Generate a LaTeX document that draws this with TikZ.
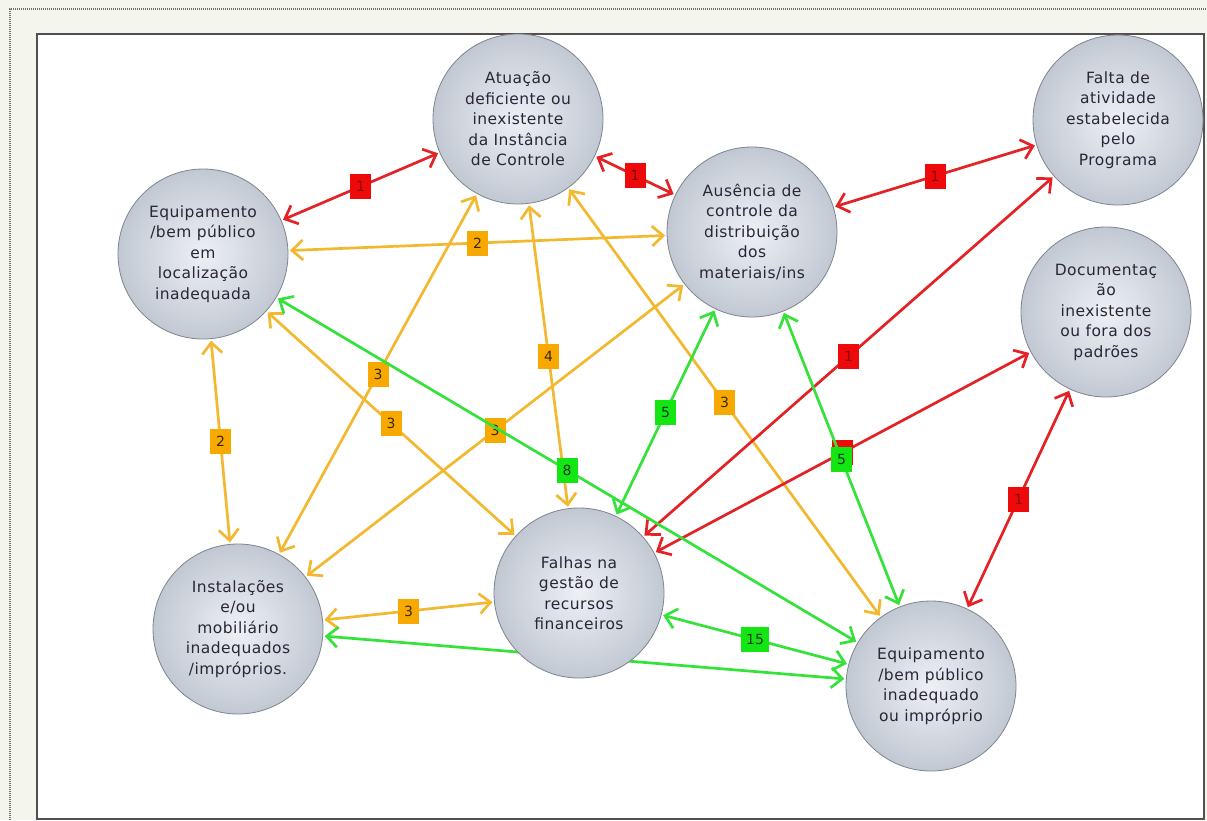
\documentclass[tikz,border=0pt]{standalone}
\usepackage{fontspec}
\usetikzlibrary{arrows.meta}
\newfontfamily\nodefont{DejaVu Sans}[LetterSpace=3]
\newfontfamily\labfont{DejaVu Sans}
\definecolor{bgout}{HTML}{F4F5EC}
\definecolor{dotcol}{HTML}{6E6E6E}
\definecolor{framecol}{HTML}{505050}
\definecolor{ballc}{HTML}{EDF0F5}
\definecolor{ballm}{HTML}{C4CAD4}
\definecolor{balle}{HTML}{8A92A0}
\definecolor{ballborder}{HTML}{7E8590}
\definecolor{nodetext}{HTML}{2A2638}
\definecolor{colO}{HTML}{F2B930}
\definecolor{labO}{HTML}{F7A900}
\definecolor{txtO}{HTML}{3A2A00}
\definecolor{colR}{HTML}{E42226}
\definecolor{labR}{HTML}{EE0A0A}
\definecolor{txtR}{HTML}{8A0000}
\definecolor{colG}{HTML}{35E23A}
\definecolor{labG}{HTML}{14E614}
\definecolor{txtG}{HTML}{0A3A0A}
\pgfdeclarelayer{bg}
\pgfdeclarelayer{edges}
\pgfsetlayers{bg,edges,main}
\pgfdeclareradialshading{ballshade}{\pgfpoint{0bp}{0bp}}{color(0bp)=(ballc); color(24bp)=(ballm); color(50bp)=(balle)}
\begin{document}
\begin{tikzpicture}[x=1pt,y=-1pt,
  >={Straight Barb[length=11pt,width=20pt]},
  ball/.style={circle, minimum size=170pt, inner sep=0pt, shading=ballshade,
    draw=ballborder, line width=0.8pt, align=center, text=nodetext,
    font=\nodefont\fontsize{15.5}{20.5}\selectfont, outer sep=2pt},
  conn/.style={<->, line width=2.7pt, line cap=round, line join=round},
  oedge/.style={conn, draw=colO},
  redge/.style={conn, draw=colR},
  gedge/.style={conn, draw=colG},
  lab/.style={rectangle, minimum width=21pt, minimum height=25pt, inner xsep=5pt,
    inner ysep=0pt, font=\labfont\fontsize{14}{16}\selectfont},
  olab/.style={lab, fill=labO, text=txtO},
  rlab/.style={lab, fill=labR, text=txtR},
  glab/.style={lab, fill=labG, text=txtG}]
\useasboundingbox (0,0) rectangle (1207,820);
\begin{pgfonlayer}{bg}
\fill[bgout] (0,0) rectangle (1207,820);
\draw[dotcol, line width=2pt, dash pattern=on 1pt off 1pt] (10,820) -- (10,9) -- (1207,9);
\draw[framecol, fill=white, line width=2.6pt] (37,34) rectangle (1204,819);
\end{pgfonlayer}

\node[ball] (n1) at (203,254) {Equipamento\\/bem público\\em\\localização\\inadequada};
\node[ball] (n2) at (518,119) {Atuação\\deficiente ou\\inexistente\\da Instância\\de Controle};
\node[ball] (n3) at (752,232) {Ausência de\\controle da\\distribuição\\dos\\materiais/ins};
\node[ball] (n4) at (1118,120) {Falta de\\atividade\\estabelecida\\pelo\\Programa};
\node[ball] (n5) at (1106,312) {Documentaç\\ão\\inexistente\\ou fora dos\\padrões};
\node[ball] (n6) at (238,629) {Instalações\\e/ou\\mobiliário\\inadequados\\/impróprios.};
\node[ball] (n7) at (579,593) {Falhas na\\gestão de\\recursos\\financeiros};
\node[ball] (n8) at (931,686) {Equipamento\\/bem público\\inadequado\\ou impróprio};

\begin{pgfonlayer}{edges}
\draw[oedge] (n1) -- node[olab]{2} (n3);
\draw[oedge] (n1) -- node[olab]{2} (n6);
\draw[oedge] (n2) -- node[olab]{3} (n6);
\draw[oedge] (n2) -- node[olab]{4} (n7);
\draw[oedge] (n2) -- node[olab]{3} (n8);
\draw[oedge] (n1) -- node[olab]{3} (n7);
\draw[oedge] (n3) -- node[olab]{3} (n6);
\draw[oedge] (n6) -- node[olab]{3} (n7);
\draw[redge] (n1) -- node[rlab]{1} (n2);
\draw[redge] (n2) -- node[rlab]{1} (n3);
\draw[redge] (n3) -- node[rlab]{1} (n4);
\draw[redge] (n7) -- node[rlab]{1} (n4);
\draw[redge] (n7) -- node[rlab]{1} (n5);
\draw[redge] (n8) -- node[rlab]{1} (n5);
\draw[gedge] (n6) -- (n8);
\draw[gedge] (n1) -- node[glab]{8} (n8);
\draw[gedge] (n3) -- node[glab]{5} (n7);
\draw[gedge] (n3) -- node[glab]{5} (n8);
\draw[gedge] (n7) -- node[glab]{15} (n8);
\end{pgfonlayer}
\end{tikzpicture}
\end{document}
